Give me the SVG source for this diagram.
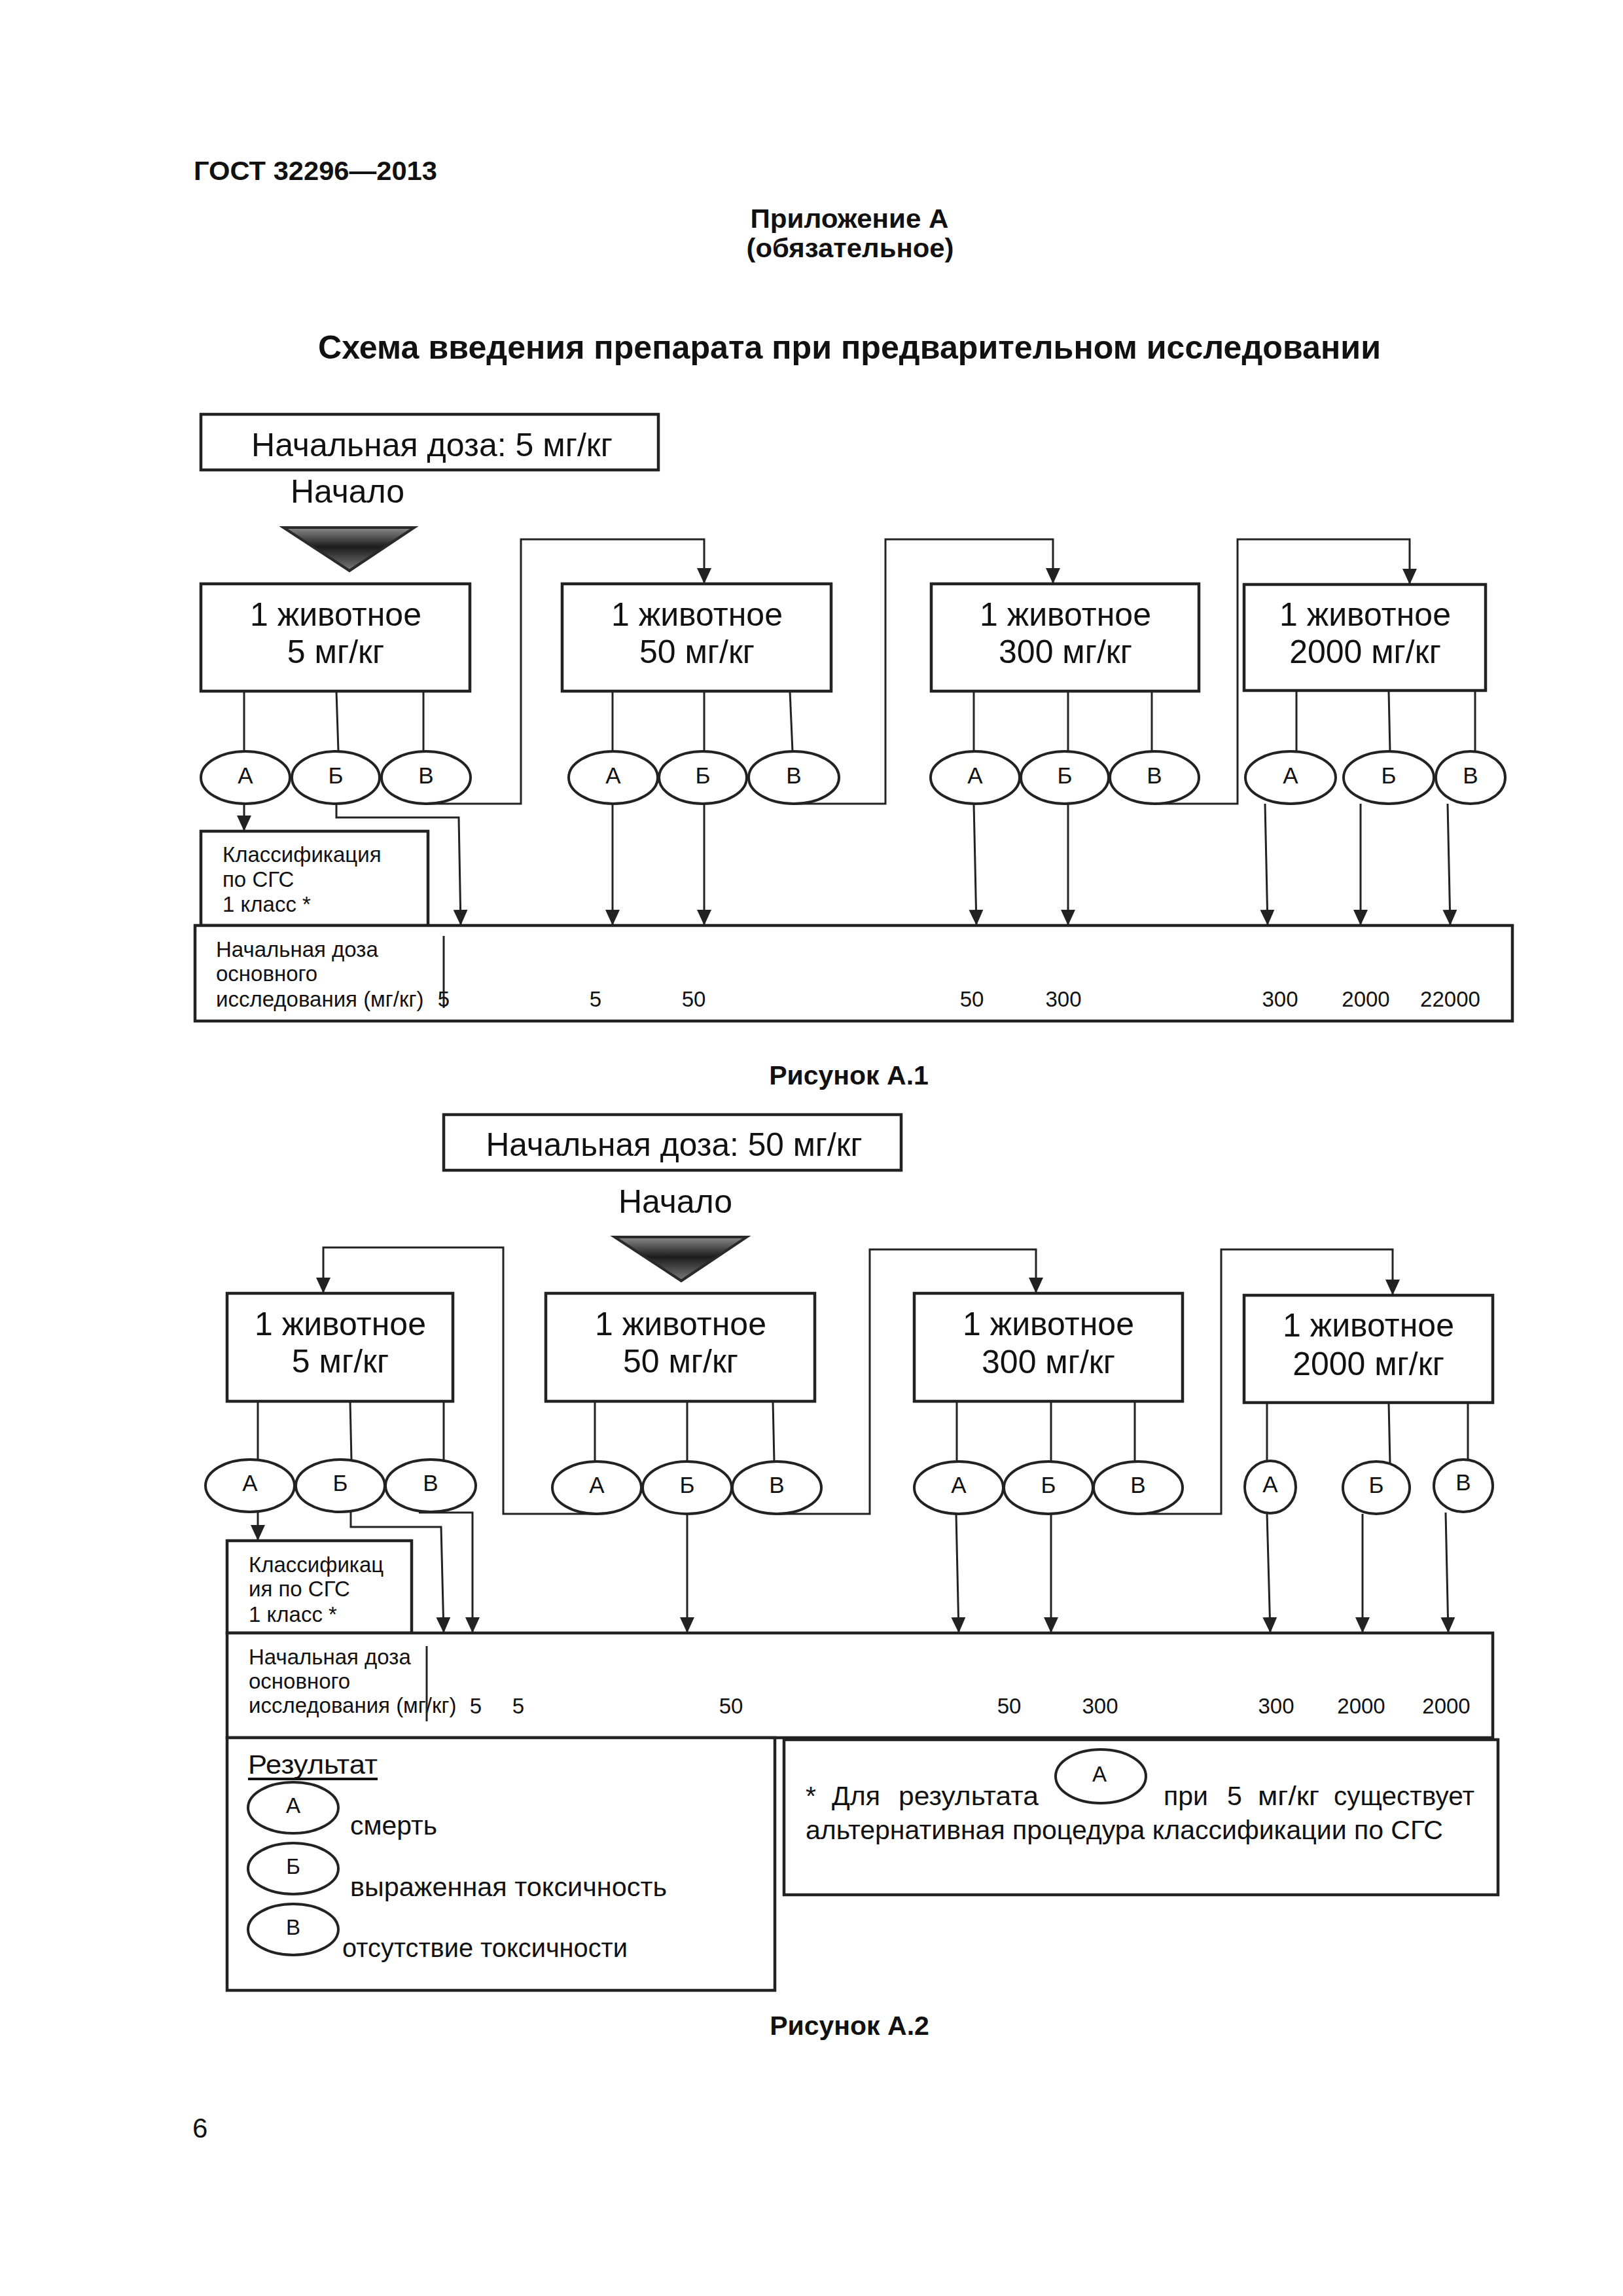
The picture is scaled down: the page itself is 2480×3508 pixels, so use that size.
<svg xmlns="http://www.w3.org/2000/svg" width="2480" height="3508" viewBox="0 0 2480 3508">
<style>
text{font-family:"Liberation Sans",Arial,sans-serif;fill:#111}
.b{font-weight:bold}
.c{text-anchor:middle}
.f48{font-size:50px}
.f34{font-size:35px}
.f32{font-size:33px}
.f31{font-size:33px}
.f38{font-size:41px}
.box{fill:#fff;stroke:#222;stroke-width:4.5}
.ell{fill:#fff;stroke:#222;stroke-width:4}
.ln{fill:none;stroke:#222;stroke-width:3}
.lnA{fill:none;stroke:#222;stroke-width:3;marker-end:url(#ah)}
.tri{fill:url(#tg);stroke:#2a2a2a;stroke-width:4}
</style>
<defs>
<linearGradient id="tg" x1="0" y1="0" x2="0" y2="1">
<stop offset="0" stop-color="#8a8a8a"/>
<stop offset="0.45" stop-color="#1c1c1c"/>
<stop offset="1" stop-color="#7a7a7a"/>
</linearGradient>
<marker id="ah" viewBox="0 0 24 22" refX="24" refY="11" markerWidth="24" markerHeight="22" markerUnits="userSpaceOnUse" orient="auto">
<path d="M0,0 L24,11 L0,22 z" fill="#222"/>
</marker>
</defs>
<rect width="2480" height="3508" fill="#fff"/>

<g id="header">
<text class="b" x="296" y="275" font-size="40" textLength="372" lengthAdjust="spacingAndGlyphs">ГОСТ 32296—2013</text>
<text class="b c" x="1298" y="348" font-size="40" textLength="303" lengthAdjust="spacingAndGlyphs">Приложение А</text>
<text class="b c" x="1299" y="393" font-size="40" textLength="317" lengthAdjust="spacingAndGlyphs">(обязательное)</text>
<text class="b c" x="1298" y="548" font-size="50" textLength="1624" lengthAdjust="spacingAndGlyphs">Схема введения препарата при предварительном исследовании</text>
</g>

<!-- Figure A.1 -->
<g id="a1-start">
<rect class="box" x="307" y="633" width="699" height="85"/>
<text class="f48 c" x="660" y="697" textLength="552" lengthAdjust="spacingAndGlyphs">Начальная доза: 5 мг/кг</text>
<text class="f48 c" x="531" y="768">Начало</text>
<polygon class="tri" points="433,806 633,806 534,872"/>
</g>
<g id="a1-n5">
<rect class="box" x="307" y="892" width="411" height="164"/>
<text class="f48 c" x="513" y="956">1 животное</text>
<text class="f48 c" x="513" y="1013">5 мг/кг</text>
</g>
<g id="a1-n50">
<rect class="box" x="859" y="892" width="411" height="164"/>
<text class="f48 c" x="1065" y="956">1 животное</text>
<text class="f48 c" x="1065" y="1013">50 мг/кг</text>
</g>
<g id="a1-n300">
<rect class="box" x="1423" y="892" width="409" height="164"/>
<text class="f48 c" x="1628" y="956">1 животное</text>
<text class="f48 c" x="1628" y="1013">300 мг/кг</text>
</g>
<g id="a1-n2000">
<rect class="box" x="1901" y="893" width="369" height="162"/>
<text class="f48 c" x="2086" y="956">1 животное</text>
<text class="f48 c" x="2086" y="1013">2000 мг/кг</text>
</g>

<g id="a1-stems">
<path class="ln" d="M373,1056V1148M514,1056L517,1148M647,1056V1148M936,1056V1148M1076,1056V1148M1207,1056L1211,1148M1488,1056V1148M1632,1056V1148M1760,1056V1148M1981,1056V1148M2122,1056L2124,1148M2254,1056V1148"/>
</g>

<g id="a1-r5">
<ellipse class="ell" cx="375" cy="1188" rx="68" ry="40"/><text class="f34 c" x="375" y="1197">А</text>
<ellipse class="ell" cx="513" cy="1188" rx="67" ry="40"/><text class="f34 c" x="513" y="1197">Б</text>
<ellipse class="ell" cx="651" cy="1188" rx="68" ry="40"/><text class="f34 c" x="651" y="1197">В</text>
</g>
<g id="a1-r50">
<ellipse class="ell" cx="937" cy="1188" rx="68" ry="40"/><text class="f34 c" x="937" y="1197">А</text>
<ellipse class="ell" cx="1074" cy="1188" rx="67" ry="40"/><text class="f34 c" x="1074" y="1197">Б</text>
<ellipse class="ell" cx="1213" cy="1188" rx="69" ry="40"/><text class="f34 c" x="1213" y="1197">В</text>
</g>
<g id="a1-r300">
<ellipse class="ell" cx="1490" cy="1188" rx="68" ry="40"/><text class="f34 c" x="1490" y="1197">А</text>
<ellipse class="ell" cx="1627" cy="1188" rx="67" ry="40"/><text class="f34 c" x="1627" y="1197">Б</text>
<ellipse class="ell" cx="1764" cy="1188" rx="68" ry="40"/><text class="f34 c" x="1764" y="1197">В</text>
</g>
<g id="a1-r2000">
<ellipse class="ell" cx="1972" cy="1188" rx="69" ry="40"/><text class="f34 c" x="1972" y="1197">А</text>
<ellipse class="ell" cx="2122" cy="1188" rx="69" ry="40"/><text class="f34 c" x="2122" y="1197">Б</text>
<ellipse class="ell" cx="2247" cy="1188" rx="53" ry="40"/><text class="f34 c" x="2247" y="1197">В</text>
</g>

<g id="a1-class">
<rect class="box" x="307" y="1270" width="347" height="144"/>
<text class="f31" x="340" y="1317">Классификация</text>
<text class="f31" x="340" y="1355">по СГС</text>
<text class="f31" x="340" y="1393">1 класс *</text>
</g>
<g id="a1-dose">
<rect class="box" x="298" y="1414" width="2013" height="146"/>
<text class="f31" x="330" y="1462">Начальная доза</text>
<text class="f31" x="330" y="1499">основного</text>
<text class="f31" x="330" y="1538">исследования (мг/кг)</text>
<line class="ln" x1="678" y1="1430" x2="678" y2="1540"/>
<text class="f32 c" x="678" y="1538">5</text>
<text class="f32 c" x="910" y="1538">5</text>
<text class="f32 c" x="1060" y="1538">50</text>
<text class="f32 c" x="1485" y="1538">50</text>
<text class="f32 c" x="1625" y="1538">300</text>
<text class="f32 c" x="1956" y="1538">300</text>
<text class="f32 c" x="2087" y="1538">2000</text>
<text class="f32 c" x="2216" y="1538">22000</text>
</g>

<g id="a1-connectors">
<path class="lnA" d="M651,1228H796V824H1076V892"/>
<path class="lnA" d="M1213,1228H1353V824H1609V892"/>
<path class="lnA" d="M1764,1228H1891V824H2154V893"/>
<path class="lnA" d="M373,1228V1270"/>
<path class="lnA" d="M514,1228V1249H701L704,1414"/>
<path class="lnA" d="M936,1228V1414"/>
<path class="lnA" d="M1076,1228V1414"/>
<path class="lnA" d="M1488,1228L1492,1414"/>
<path class="lnA" d="M1632,1228V1414"/>
<path class="lnA" d="M1933,1228L1937,1414"/>
<path class="lnA" d="M2079,1228V1414"/>
<path class="lnA" d="M2212,1228L2216,1414"/>
</g>

<text class="b c" x="1297" y="1657" font-size="41">Рисунок А.1</text>

<!-- Figure A.2 -->
<g id="a2-start">
<rect class="box" x="678" y="1703" width="699" height="85"/>
<text class="f48 c" x="1030" y="1766" textLength="575" lengthAdjust="spacingAndGlyphs">Начальная доза: 50 мг/кг</text>
<text class="f48 c" x="1032" y="1853">Начало</text>
<polygon class="tri" points="939,1890 1141,1890 1041,1957"/>
</g>
<g id="a2-n5">
<rect class="box" x="347" y="1976" width="345" height="165"/>
<text class="f48 c" x="520" y="2040">1 животное</text>
<text class="f48 c" x="520" y="2097">5 мг/кг</text>
</g>
<g id="a2-n50">
<rect class="box" x="834" y="1976" width="411" height="165"/>
<text class="f48 c" x="1040" y="2040">1 животное</text>
<text class="f48 c" x="1040" y="2097">50 мг/кг</text>
</g>
<g id="a2-n300">
<rect class="box" x="1397" y="1976" width="410" height="165"/>
<text class="f48 c" x="1602" y="2040">1 животное</text>
<text class="f48 c" x="1602" y="2098">300 мг/кг</text>
</g>
<g id="a2-n2000">
<rect class="box" x="1901" y="1979" width="380" height="164"/>
<text class="f48 c" x="2091" y="2042">1 животное</text>
<text class="f48 c" x="2091" y="2101">2000 мг/кг</text>
</g>

<g id="a2-stems">
<path class="ln" d="M394,2141V2230M535,2141L537,2230M678,2141V2230M909,2141V2233M1050,2141V2233M1181,2141L1183,2233M1462,2141V2233M1606,2141V2233M1734,2141V2233M1936,2143V2233M2122,2143L2124,2236M2243,2143V2230"/>
</g>

<g id="a2-r5">
<ellipse class="ell" cx="382" cy="2270" rx="68" ry="40"/><text class="f34 c" x="382" y="2278">А</text>
<ellipse class="ell" cx="520" cy="2270" rx="68" ry="40"/><text class="f34 c" x="520" y="2278">Б</text>
<ellipse class="ell" cx="658" cy="2270" rx="69" ry="40"/><text class="f34 c" x="658" y="2278">В</text>
</g>
<g id="a2-r50">
<ellipse class="ell" cx="912" cy="2273" rx="68" ry="40"/><text class="f34 c" x="912" y="2281">А</text>
<ellipse class="ell" cx="1050" cy="2273" rx="68" ry="40"/><text class="f34 c" x="1050" y="2281">Б</text>
<ellipse class="ell" cx="1187" cy="2273" rx="68" ry="40"/><text class="f34 c" x="1187" y="2281">В</text>
</g>
<g id="a2-r300">
<ellipse class="ell" cx="1465" cy="2273" rx="68" ry="40"/><text class="f34 c" x="1465" y="2281">А</text>
<ellipse class="ell" cx="1602" cy="2273" rx="68" ry="40"/><text class="f34 c" x="1602" y="2281">Б</text>
<ellipse class="ell" cx="1739" cy="2273" rx="68" ry="40"/><text class="f34 c" x="1739" y="2281">В</text>
</g>
<g id="a2-r2000">
<ellipse class="ell" cx="1941" cy="2272" rx="39" ry="40"/><text class="f34 c" x="1941" y="2280">А</text>
<ellipse class="ell" cx="2103" cy="2273" rx="51" ry="40"/><text class="f34 c" x="2103" y="2281">Б</text>
<ellipse class="ell" cx="2236" cy="2270" rx="45" ry="40"/><text class="f34 c" x="2236" y="2277">В</text>
</g>

<g id="a2-class">
<rect class="box" x="347" y="2354" width="282" height="141"/>
<text class="f31" x="380" y="2402">Классификац</text>
<text class="f31" x="380" y="2439">ия по СГС</text>
<text class="f31" x="380" y="2478">1 класс *</text>
</g>
<g id="a2-dose">
<rect class="box" x="347" y="2495" width="1934" height="160"/>
<text class="f31" x="380" y="2543">Начальная доза</text>
<text class="f31" x="380" y="2580">основного</text>
<text class="f31" x="380" y="2617">исследования (мг/кг)</text>
<line class="ln" x1="652" y1="2515" x2="652" y2="2630"/>
<text class="f32 c" x="727" y="2618">5</text>
<text class="f32 c" x="792" y="2618">5</text>
<text class="f32 c" x="1117" y="2618">50</text>
<text class="f32 c" x="1542" y="2618">50</text>
<text class="f32 c" x="1681" y="2618">300</text>
<text class="f32 c" x="1950" y="2618">300</text>
<text class="f32 c" x="2080" y="2618">2000</text>
<text class="f32 c" x="2210" y="2618">2000</text>
</g>

<g id="a2-connectors">
<path class="lnA" d="M912,2313H769V1906H494V1976"/>
<path class="lnA" d="M1187,2313H1329V1909H1583V1976"/>
<path class="lnA" d="M1739,2313H1866V1909H2128V1979"/>
<path class="lnA" d="M394,2310V2354"/>
<path class="lnA" d="M536,2310V2333H674L678,2495"/>
<path class="lnA" d="M640,2311H722V2495"/>
<path class="lnA" d="M1050,2313V2495"/>
<path class="lnA" d="M1461,2313L1465,2495"/>
<path class="lnA" d="M1606,2313V2495"/>
<path class="lnA" d="M1936,2312L1941,2495"/>
<path class="lnA" d="M2082,2313V2495"/>
<path class="lnA" d="M2209,2311L2213,2495"/>
</g>

<g id="legend">
<rect class="box" x="347" y="2655" width="837" height="386"/>
<text x="379" y="2710" font-size="40" textLength="198" lengthAdjust="spacingAndGlyphs">Результат</text>
<line x1="379" y1="2718" x2="577" y2="2718" stroke="#111" stroke-width="4"/>
<ellipse class="ell" cx="448" cy="2762" rx="69" ry="39"/><text class="f32 c" x="448" y="2770">А</text>
<text class="f38" x="535" y="2803" textLength="133" lengthAdjust="spacingAndGlyphs">смерть</text>
<ellipse class="ell" cx="448" cy="2855" rx="69" ry="39"/><text class="f32 c" x="448" y="2863">Б</text>
<text class="f38" x="535" y="2897" textLength="484" lengthAdjust="spacingAndGlyphs">выраженная токсичность</text>
<ellipse class="ell" cx="448" cy="2948" rx="69" ry="39"/><text class="f32 c" x="448" y="2956">В</text>
<text class="f38" x="523" y="2990" textLength="436" lengthAdjust="spacingAndGlyphs">отсутствие токсичности</text>
</g>

<g id="footnote">
<rect class="box" x="1198" y="2658" width="1091" height="237"/>
<text class="f38" x="1231" y="2758">*</text>
<text class="f38" x="1271" y="2758">Для</text>
<text class="f38" x="1373" y="2758" textLength="214" lengthAdjust="spacingAndGlyphs">результата</text>
<ellipse class="ell" cx="1682" cy="2714" rx="69" ry="41"/><text class="f32 c" x="1680" y="2722">А</text>
<text class="f38" x="1778" y="2758">при</text>
<text class="f38" x="1875" y="2758">5</text>
<text class="f38" x="1922" y="2758" textLength="94" lengthAdjust="spacingAndGlyphs">мг/кг</text>
<text class="f38" x="2038" y="2758" textLength="215" lengthAdjust="spacingAndGlyphs">существует</text>
<text class="f38" x="1231" y="2810" textLength="974" lengthAdjust="spacingAndGlyphs">альтернативная процедура классификации по СГС</text>
</g>

<text class="b c" x="1298" y="3109" font-size="41">Рисунок А.2</text>
<text x="294" y="3266" font-size="42">6</text>
</svg>
